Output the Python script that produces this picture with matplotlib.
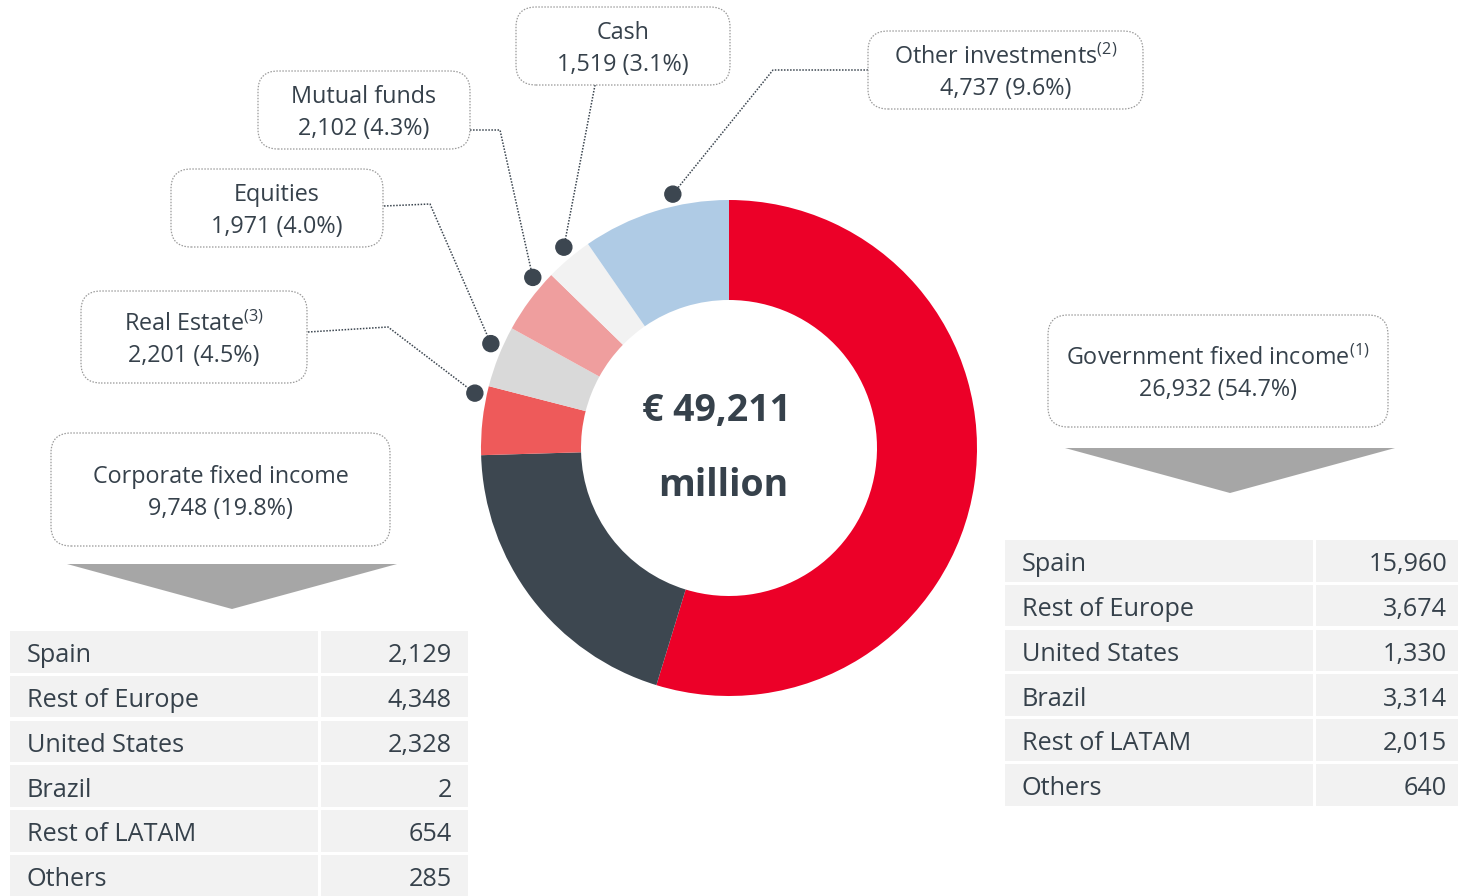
import numpy as np
import matplotlib
matplotlib.use("Agg")
import matplotlib.pyplot as plt
from matplotlib.patches import FancyBboxPatch, Polygon, Rectangle, Circle

plt.rcParams['font.family'] = ['Open Sans', 'DejaVu Sans']
plt.rcParams['mathtext.fontset'] = 'custom'
plt.rcParams['mathtext.rm'] = 'Open Sans'

# portfolio breakdown (EUR million)
categories = ['Government fixed income', 'Corporate fixed income', 'Real Estate',
              'Equities', 'Mutual funds', 'Cash', 'Other investments']
values = [26932, 9748, 2201, 1971, 2102, 1519, 4737]
shares = ['54.7%', '19.8%', '4.5%', '4.0%', '4.3%', '3.1%', '9.6%']
notes = ['(1)', '', '(3)', '', '', '', '(2)']
colors = ['#EC0028', '#3D4750', '#EE5A5A', '#D9D9D9', '#EF9E9E', '#F2F2F2', '#AFCBE5']
total_label = '€ 49,211'

regions = ['Spain', 'Rest of Europe', 'United States', 'Brazil', 'Rest of LATAM', 'Others']
gov_by_region = [15960, 3674, 1330, 3314, 2015, 640]
corp_by_region = [2129, 4348, 2328, 2, 654, 285]

TXT = '#36414B'
W, H = 1458, 896


def Y(py):
    return H - py


fig = plt.figure(figsize=(W / 100, H / 100), dpi=100)
ax = fig.add_axes([0, 0, 1, 1])

cx, cy, R = 729, Y(448), 248
wedges, _ = ax.pie(values, colors=colors, startangle=90, counterclock=False,
                   center=(cx, cy), radius=R,
                   wedgeprops=dict(width=100, linewidth=0))
ax.set_xlim(0, W)
ax.set_ylim(0, H)
ax.set_aspect('equal')
ax.axis('off')

ax.text(cx - 12, Y(411), total_label, ha='center', va='center', fontsize=27,
        fontweight='bold', color=TXT)
ax.text(cx - 6, Y(486), 'million', ha='center', va='center', fontsize=27,
        fontweight='bold', color=TXT)

# label boxes: (left, top, width, height) in pixels, connector path from box to dot
boxes = {
    0: (1048, 315, 340, 112),
    1: (51, 433, 339, 113),
    2: (81, 291, 226, 92),
    3: (171, 169, 212, 78),
    4: (258, 71, 212, 78),
    5: (516, 7, 214, 78),
    6: (868, 31, 275, 78),
}
connectors = {
    2: [(308, 332), (388, 327)],
    3: [(384, 206), (430, 204)],
    4: [(470, 130), (500, 130)],
    5: [(595, 85)],
    6: [(868, 70), (773, 70)],
}
dot_pos = {2: 0.14, 3: 0.36, 4: 0.21, 5: 0.43, 6: 0.36}

for i, (l, t, w, h) in boxes.items():
    box = FancyBboxPatch((l, Y(t + h)), w, h,
                         boxstyle='round,pad=0,rounding_size=20',
                         facecolor='white', edgecolor='#9A9A9A',
                         linestyle=(0, (1.2, 1.2)), linewidth=0.9, zorder=3)
    ax.add_patch(box)
    mid = t + h / 2 + 3
    name = categories[i]
    if notes[i]:
        name = name + r'$^{\mathrm{' + notes[i] + '}}$'
    ax.text(l + w / 2, Y(mid - 16), name, ha='center', va='center',
            fontsize=16.8, color=TXT, zorder=4)
    ax.text(l + w / 2, Y(mid + 16), f'{values[i]:,} ({shares[i]})',
            ha='center', va='center', fontsize=16.8, color=TXT, zorder=4)

for i, pts in connectors.items():
    wd = wedges[i]
    ang = np.deg2rad(wd.theta1 + dot_pos[i] * (wd.theta2 - wd.theta1))
    dx, dy = cx + 260 * np.cos(ang), cy + 260 * np.sin(ang)
    xs = [p[0] for p in pts] + [dx]
    ys = [Y(p[1]) for p in pts] + [dy]
    ax.plot(xs, ys, color='#3C4650', linestyle=(0, (1, 1)), linewidth=1.1, zorder=2)
    ax.add_patch(Circle((dx, dy), 8, color='#3C4650', zorder=5))

# arrows pointing to the breakdown tables
for (x0, x1, top, tip) in [(67, 397, 564, 609), (1065, 1395, 448, 493)]:
    ax.add_patch(Polygon([(x0, Y(top)), (x1, Y(top)), ((x0 + x1) / 2, Y(tip))],
                         closed=True, facecolor='#A6A6A6', edgecolor='none'))


def draw_table(left, right, split, top, data, val_x):
    pitch = 44.8
    for k, (reg, val) in enumerate(zip(regions, data)):
        rt = top + k * pitch
        rh = pitch - 3.3
        ax.add_patch(Rectangle((left, Y(rt + rh)), split - left, rh,
                               facecolor='#F2F2F2', edgecolor='none'))
        ax.add_patch(Rectangle((split + 3, Y(rt + rh)), right - split - 3, rh,
                               facecolor='#F2F2F2', edgecolor='none'))
        ym = Y(rt + rh / 2 + 4)
        ax.text(left + 17, ym, reg, ha='left', va='center', fontsize=18.2, color=TXT)
        ax.text(val_x, ym, f'{val:,}', ha='right', va='center', fontsize=18.2, color=TXT)


draw_table(10, 468, 318, 631, corp_by_region, 452)
draw_table(1005, 1458, 1313, 540, gov_by_region, 1447)

fig.savefig('out.png', dpi=100)
